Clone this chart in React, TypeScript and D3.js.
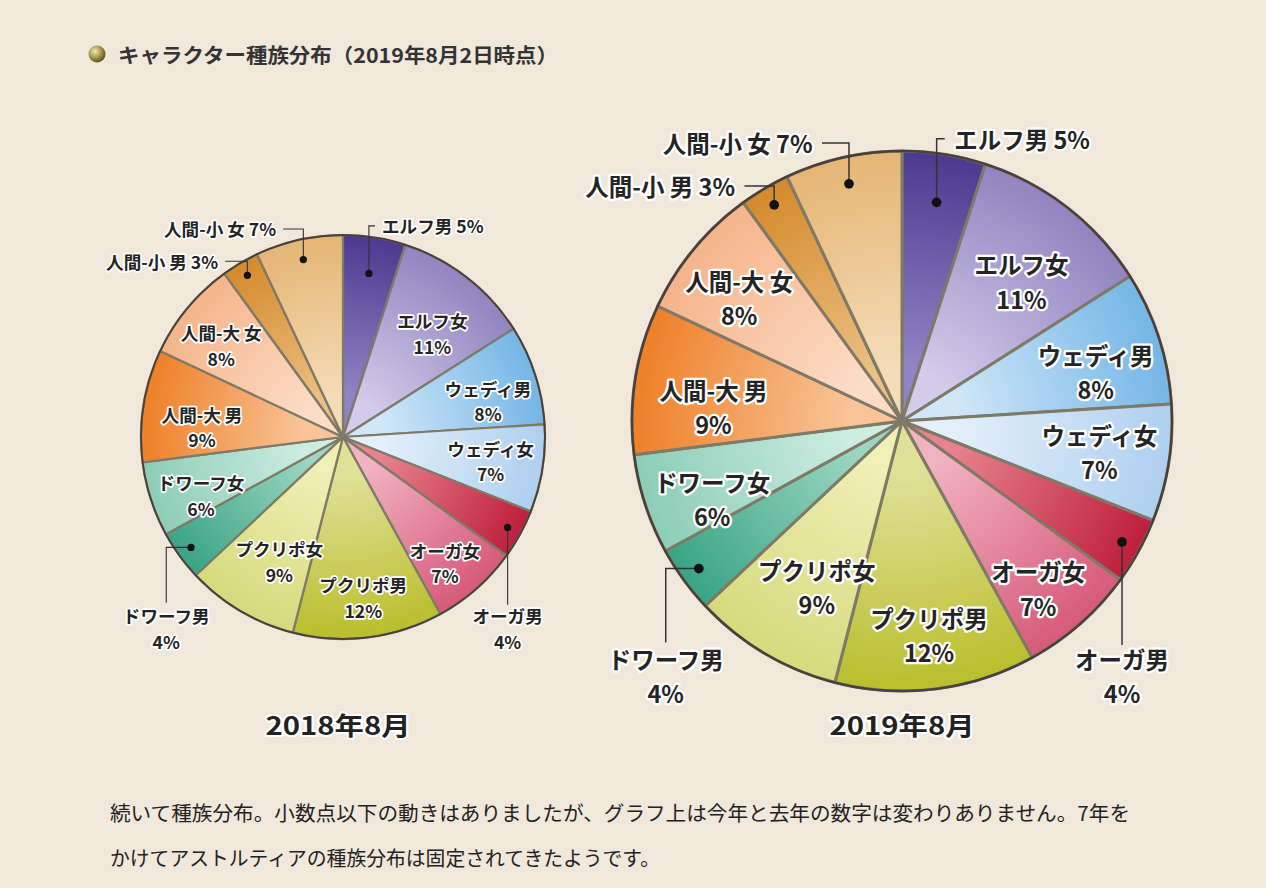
import React from 'react';
import * as d3 from 'd3';

const categories = ['エルフ男', 'エルフ女', 'ウェディ男', 'ウェディ女', 'オーガ男', 'オーガ女', 'プクリポ男', 'プクリポ女', 'ドワーフ男', 'ドワーフ女', '人間-大 男', '人間-大 女', '人間-小 男', '人間-小 女'];
const values2018 = [5, 11, 8, 7, 4, 7, 12, 9, 4, 6, 9, 8, 3, 7];
const values2019 = [5, 11, 8, 7, 4, 7, 12, 9, 4, 6, 9, 8, 3, 7];
const edgeColors = ['#4b3a8f', '#9184c0', '#74b6e6', '#aecff0', '#bd1f3c', '#d65a7a', '#b9be2c', '#d6da7c', '#3aa485', '#8ccdb6', '#ee8028', '#f5b48a', '#d48a2c', '#e5b574'];
const centerColors = ['#9184c6', '#d2cbe9', '#d0e7f8', '#e3effa', '#e8848f', '#f1b2c1', '#e0e098', '#efefb6', '#9cd6c1', '#cdede1', '#f8c498', '#fcdcc6', '#ecc084', '#f4dcb8'];
const yearLabels = ['2018年8月', '2019年8月'];
const titleText = 'キャラクター種族分布（2019年8月2日時点）';
const bodyLines = [
  '続いて種族分布。小数点以下の動きはありましたが、グラフ上は今年と去年の数字は変わりありません。7年を',
  'かけてアストルティアの種族分布は固定されてきたようです。',
];

const FONT = '"Noto Sans CJK JP", "Noto Sans", sans-serif';

// layout: outside labels (leader lines)
const outside: Record<number, any> = {
  0: { type: 'up', side: 1, ty: -1.045, hl: 0.03, dr: 0.82 },
  13: { type: 'up', side: -1, ty: -1.03, hl: 0.1, dr: 0.9 },
  12: { type: 'up', side: -1, ty: -0.87, hl: 0.11, dr: 0.93 },
  4: { type: 'down', ty: 0.83, dr: 0.93 },
  8: { type: 'left', tx: -0.875, ty: 0.82, dr: 0.93 },
};
// layout: inside label radius factor & angle tweak (deg)
const inside: Record<number, [number, number]> = {
  1: [0.68, 2.8], 2: [0.74, 3.8], 3: [0.74, 0], 5: [0.8, 2.3], 6: [0.8, 0],
  7: [0.69, -3.4], 9: [0.76, -4.3], 10: [0.7, -4.8], 11: [0.755, -2.6],
};

function Pie({ id, cx, cy, R, values, year }: any) {
  const pie = d3.pie<number>().sort(null).value((d) => d)(values);
  const arc = d3.arc<any>().innerRadius(0).outerRadius(R);
  const fs = R * 0.087;
  const lh = R * 0.127;
  const polar = (a: number, r: number) => [cx + r * Math.sin(a), cy - r * Math.cos(a)];
  const txtStyle = {
    fontFamily: FONT, fontWeight: 700, fontSize: fs, fill: '#242424',
    stroke: '#ffffff', strokeWidth: R * 0.017, strokeLinejoin: 'round' as const, paintOrder: 'stroke' as const,
  };
  const twoLine = (x: number, y1: number, y2: number, a: string, b: string) => (
    <text textAnchor="middle" dominantBaseline="central">
      <tspan x={x} y={y1}>{a}</tspan>
      <tspan x={x} y={y2}>{b}</tspan>
    </text>
  );
  return (
    <g>
      <defs>
        {values.map((_: number, i: number) => (
          <radialGradient key={i} id={`g${id}-${i}`} gradientUnits="userSpaceOnUse" cx={0} cy={0} r={R}>
            <stop offset="0" stopColor={centerColors[i]} />
            <stop offset="0.2" stopColor={centerColors[i]} />
            <stop offset="1" stopColor={edgeColors[i]} />
          </radialGradient>
        ))}
      </defs>
      <g transform={`translate(${cx},${cy})`}>
        {pie.map((p, i) => (
          <path key={i} d={arc(p) as string} fill={`url(#g${id}-${i})`} stroke="#7f7967" strokeWidth={R * 0.011} strokeLinejoin="round" />
        ))}
      </g>
      <circle cx={cx} cy={cy} r={R} fill="none" stroke="#4a403b" strokeWidth={R * 0.009} />
      {pie.map((p, i) => {
        const mid = (p.startAngle + p.endAngle) / 2;
        const [name, pct] = [categories[i], `${values[i]}%`];
        if (inside[i]) {
          const [rf, da] = inside[i];
          const [x, y] = polar(mid + (da * Math.PI) / 180, R * rf);
          return (
            <g key={i} style={txtStyle}>
              {twoLine(x, y - lh / 2, y + lh / 2, name, pct)}
            </g>
          );
        }
        const o = outside[i];
        const [dx, dy] = polar(mid, R * o.dr);
        let path = '';
        let texts: any = null;
        if (o.type === 'up') {
          const ly = cy + o.ty * R;
          const ex = dx + o.side * o.hl * R;
          path = `M${dx},${dy}V${ly}H${ex}`;
          texts = (
            <text x={ex + o.side * R * 0.035} y={ly} textAnchor={o.side > 0 ? 'start' : 'end'} dominantBaseline="central">
              {name + ' ' + pct}
            </text>
          );
        } else {
          const lx = o.type === 'down' ? dx : cx + o.tx * R;
          const ly = cy + o.ty * R;
          path = o.type === 'down' ? `M${dx},${dy}V${ly}` : `M${dx},${dy}H${lx}V${ly}`;
          texts = twoLine(lx, cy + 0.882 * R, cy + 1.009 * R, name, pct);
        }
        return (
          <g key={i}>
            <path d={path} fill="none" stroke="#333" strokeWidth={R * 0.0055} />
            <circle cx={dx} cy={dy} r={R * 0.018} fill="#111" />
            <g style={txtStyle}>{texts}</g>
          </g>
        );
      })}
      <text x={cx - (id === 0 ? 5 : 0)} y={724} textAnchor="middle" dominantBaseline="central"
        style={{ fontFamily: FONT, fontWeight: 700, fontSize: 25, fill: '#222', stroke: '#fff', strokeWidth: 4, strokeLinejoin: 'round', paintOrder: 'stroke' }}
        textLength={145} lengthAdjust="spacingAndGlyphs">
        {year}
      </text>
    </g>
  );
}

export default function App() {
  return (
    <svg width={1266} height={888} style={{ position: 'absolute', left: 0, top: 0, background: '#f1e8dc' }}>
      <defs>
        <radialGradient id="bullet" cx="0.38" cy="0.35" r="0.7">
          <stop offset="0" stopColor="#efe9b8" />
          <stop offset="0.45" stopColor="#b3a656" />
          <stop offset="0.85" stopColor="#6e6226" />
          <stop offset="1" stopColor="#4f4518" />
        </radialGradient>
      </defs>
      <rect width={1266} height={888} fill="#f1e8dc" />
      <circle cx={97} cy={54} r={8.5} fill="url(#bullet)" />
      <text x={118} y={54} dominantBaseline="central" style={{ fontFamily: FONT, fontWeight: 700, fontSize: 20, fill: '#333' }}
        textLength={440} lengthAdjust="spacingAndGlyphs">{titleText}</text>
      <Pie id={0} cx={343} cy={437} R={202} values={values2018} year={yearLabels[0]} />
      <Pie id={1} cx={902} cy={421} R={270} values={values2019} year={yearLabels[1]} />
      {bodyLines.map((l, i) => (
        <text key={i} x={110} y={812 + i * 45} dominantBaseline="central"
          style={{ fontFamily: FONT, fontSize: 20, fill: '#222' }}
          textLength={i === 0 ? 1020 : 550} lengthAdjust="spacingAndGlyphs">{l}</text>
      ))}
    </svg>
  );
}
